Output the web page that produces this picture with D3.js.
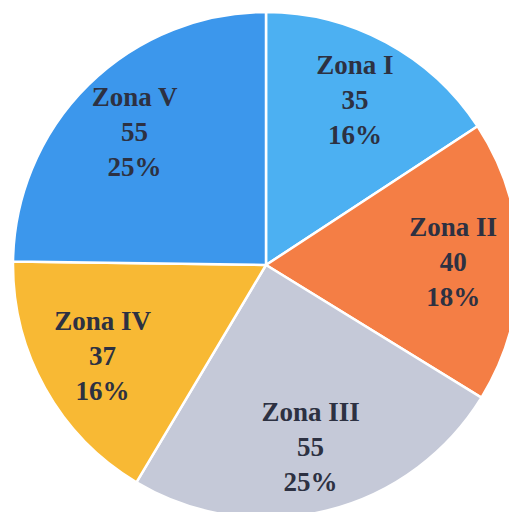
<!DOCTYPE html>
<html>
<head>
<meta charset="utf-8">
<script src="https://cdn.jsdelivr.net/npm/d3@7"></script>
<style>
  html, body { margin: 0; padding: 0; background: #fff; }
</style>
</head>
<body>
<div id="chart"></div>
<script>
var zones = ["Zona I", "Zona II", "Zona III", "Zona IV", "Zona V"];
var values = [35, 40, 55, 37, 55];
var percents = ["16%", "18%", "25%", "16%", "25%"];
var colors = ["#4cb0f2", "#f47e45", "#c5c9d8", "#f8b934", "#3c97ec"];

var width = 509, height = 512;
var cx = 266, cy = 265, radius = 253;

var svg = d3.select("#chart").append("svg")
	.attr("width", width)
	.attr("height", height);

var g = svg.append("g")
	.attr("transform", "translate(" + cx + "," + cy + ")");

var pie = d3.pie().sort(null).value(function(d) { return d; });
var arcs = pie(values);

var arc = d3.arc().innerRadius(0).outerRadius(radius);
var labelArc = d3.arc().innerRadius(radius * 0.74).outerRadius(radius * 0.74);

g.selectAll("path.slice")
	.data(arcs)
	.enter()
	.append("path")
	.attr("class", "slice")
	.attr("d", arc)
	.attr("fill", function(d, i) { return colors[i]; })
	.attr("stroke", "#ffffff")
	.attr("stroke-width", 2.5);

var label = g.selectAll("text.label")
	.data(arcs)
	.enter()
	.append("text")
	.attr("class", "label")
	.attr("transform", function(d) { return "translate(" + labelArc.centroid(d) + ")"; })
	.attr("text-anchor", "middle")
	.attr("font-family", "'Liberation Serif', 'Times New Roman', serif")
	.attr("font-weight", "bold")
	.attr("font-size", 27)
	.attr("fill", "#2d3142");

label.append("tspan")
	.attr("x", 0).attr("y", -26)
	.text(function(d, i) { return zones[i]; });
label.append("tspan")
	.attr("x", 0).attr("y", 9)
	.text(function(d, i) { return values[i]; });
label.append("tspan")
	.attr("x", 0).attr("y", 44)
	.text(function(d, i) { return percents[i]; });
</script>
</body>
</html>
